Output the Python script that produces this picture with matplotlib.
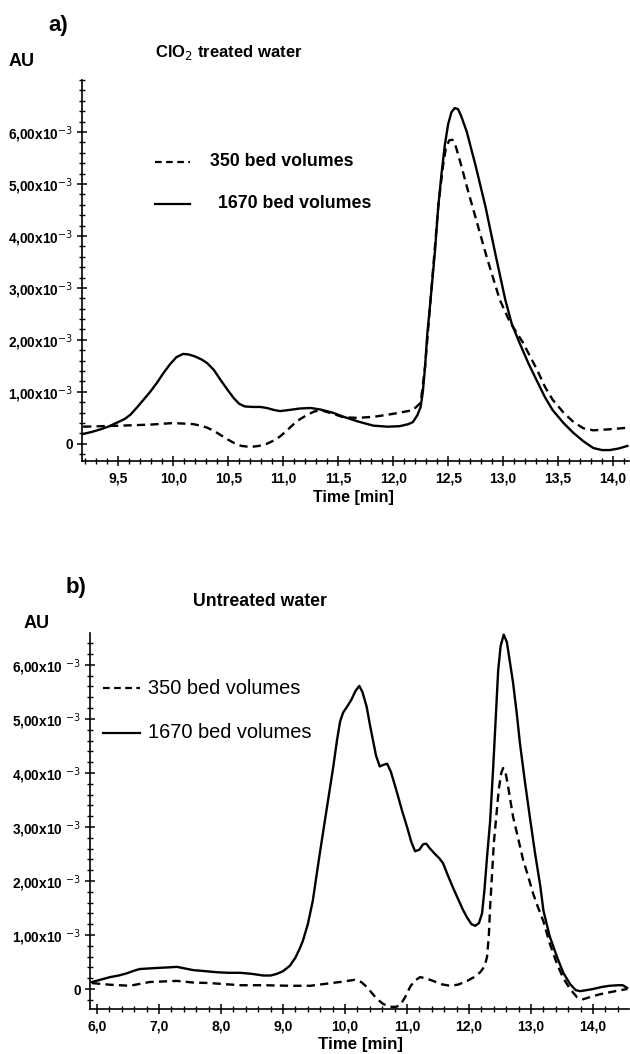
import matplotlib
matplotlib.use("Agg")
import matplotlib.pyplot as plt
from matplotlib.lines import Line2D
from matplotlib.ticker import MultipleLocator, FixedLocator, FuncFormatter

plt.rcParams['font.family'] = ['Liberation Sans', 'DejaVu Sans']

# ---- panel a: ClO2 treated water (AU in units of 1e-3) ----
time_a_1670 = [9.18, 9.26, 9.34, 9.42, 9.50, 9.56, 9.61, 9.67, 9.73, 9.79,
               9.85, 9.91, 9.97, 10.03, 10.09, 10.14, 10.20, 10.26, 10.31, 10.37,
               10.43, 10.49, 10.55, 10.60, 10.65, 10.72, 10.79, 10.85, 10.92, 10.97,
               11.05, 11.15, 11.25, 11.34, 11.45, 11.55, 11.68, 11.82, 11.95, 12.06,
               12.14, 12.18, 12.22, 12.25, 12.27, 12.29, 12.31, 12.34, 12.38, 12.41,
               12.44, 12.47, 12.50, 12.53, 12.56, 12.59, 12.62, 12.67, 12.75, 12.84,
               12.93, 13.02, 13.08, 13.15, 13.23, 13.31, 13.38, 13.45, 13.55, 13.64,
               13.73, 13.82, 13.90, 13.97, 14.05, 14.13]
au_a_1670 = [0.19, 0.23, 0.28, 0.34, 0.42, 0.48, 0.56, 0.70, 0.85, 1.00,
             1.17, 1.36, 1.53, 1.67, 1.73, 1.72, 1.68, 1.62, 1.55, 1.42,
             1.23, 1.05, 0.88, 0.77, 0.72, 0.71, 0.71, 0.69, 0.65, 0.63,
             0.65, 0.68, 0.69, 0.66, 0.60, 0.52, 0.43, 0.35, 0.33, 0.34,
             0.38, 0.42, 0.55, 0.71, 1.00, 1.48, 2.10, 2.77, 3.70, 4.56,
             5.20, 5.75, 6.15, 6.38, 6.46, 6.44, 6.30, 6.00, 5.35, 4.56,
             3.65, 2.77, 2.30, 1.94, 1.55, 1.20, 0.90, 0.65, 0.40, 0.21,
             0.05, -0.08, -0.12, -0.12, -0.09, -0.04]

time_a_350 = [9.18, 9.35, 9.52, 9.79, 10.00, 10.18, 10.25, 10.31, 10.37, 10.43,
              10.49, 10.55, 10.62, 10.70, 10.78, 10.85, 10.91, 10.97, 11.03, 11.09,
              11.15, 11.22, 11.28, 11.34, 11.45, 11.55, 11.68, 11.82, 11.95, 12.06,
              12.18, 12.25, 12.29, 12.34, 12.41, 12.45, 12.48, 12.51, 12.54, 12.57,
              12.62, 12.67, 12.73, 12.85, 12.97, 13.06, 13.18, 13.31, 13.38, 13.45,
              13.55, 13.64, 13.73, 13.82, 13.97, 14.13]
au_a_350 = [0.33, 0.34, 0.35, 0.37, 0.40, 0.38, 0.35, 0.31, 0.25, 0.17,
            0.09, 0.02, -0.04, -0.06, -0.04, 0.00, 0.06, 0.14, 0.25, 0.37,
            0.47, 0.56, 0.62, 0.65, 0.58, 0.51, 0.50, 0.52, 0.56, 0.60,
            0.65, 0.79, 1.48, 2.77, 4.56, 5.30, 5.70, 5.84, 5.85, 5.72,
            5.35, 4.95, 4.50, 3.60, 2.77, 2.35, 1.95, 1.42, 1.10, 0.85,
            0.60, 0.42, 0.30, 0.26, 0.28, 0.31]

# ---- panel b: untreated water ----
time_b_1670 = [5.92, 6.05, 6.21, 6.35, 6.48, 6.60, 6.69, 6.83, 6.97, 7.15,
               7.29, 7.42, 7.55, 7.75, 7.94, 8.12, 8.31, 8.50, 8.68, 8.80,
               8.90, 9.00, 9.11, 9.20, 9.27, 9.32, 9.40, 9.48, 9.54, 9.60,
               9.70, 9.81, 9.87, 9.92, 9.97, 10.03, 10.10, 10.17, 10.23, 10.28,
               10.35, 10.40, 10.45, 10.50, 10.56, 10.62, 10.68, 10.74, 10.84, 10.92,
               11.00, 11.07, 11.13, 11.20, 11.26, 11.31, 11.37, 11.45, 11.52, 11.58,
               11.66, 11.74, 11.81, 11.90, 11.97, 12.04, 12.10, 12.16, 12.21, 12.25,
               12.29, 12.34, 12.39, 12.43, 12.47, 12.51, 12.56, 12.61, 12.66, 12.71,
               12.77, 12.82, 12.90, 12.98, 13.06, 13.15, 13.20, 13.30, 13.42, 13.52,
               13.63, 13.72, 13.79, 13.90, 14.00, 14.15, 14.27, 14.40, 14.48, 14.55]
au_b_1670 = [0.13, 0.17, 0.22, 0.25, 0.29, 0.34, 0.37, 0.38, 0.39, 0.40,
             0.41, 0.38, 0.35, 0.33, 0.31, 0.30, 0.30, 0.28, 0.25, 0.25,
             0.28, 0.33, 0.43, 0.58, 0.75, 0.89, 1.20, 1.63, 2.10, 2.56,
             3.30, 4.11, 4.60, 4.95, 5.12, 5.22, 5.35, 5.52, 5.61, 5.50,
             5.22, 4.90, 4.61, 4.32, 4.12, 4.15, 4.17, 4.02, 3.63, 3.30,
             3.00, 2.72, 2.55, 2.58, 2.68, 2.69, 2.60, 2.50, 2.42, 2.33,
             2.10, 1.88, 1.70, 1.47, 1.32, 1.20, 1.17, 1.22, 1.40, 1.85,
             2.44, 3.10, 4.11, 5.00, 5.90, 6.35, 6.56, 6.42, 6.05, 5.67,
             5.10, 4.56, 3.85, 3.19, 2.55, 1.90, 1.45, 0.98, 0.59, 0.30,
             0.09, -0.02, -0.04, -0.02, 0.00, 0.04, 0.06, 0.07, 0.07, 0.02]

time_b_350 = [5.92, 6.20, 6.53, 6.85, 7.29, 7.55, 7.82, 8.31, 8.70, 9.11,
              9.44, 9.92, 10.16, 10.26, 10.35, 10.43, 10.52, 10.62, 10.73, 10.82,
              10.89, 10.97, 11.05, 11.12, 11.21, 11.30, 11.42, 11.55, 11.69, 11.82,
              11.97, 12.08, 12.18, 12.25, 12.29, 12.32, 12.34, 12.37, 12.40, 12.44,
              12.48, 12.52, 12.55, 12.59, 12.63, 12.71, 12.79, 12.87, 12.95, 13.03,
              13.10, 13.20, 13.30, 13.42, 13.52, 13.63, 13.74, 13.84, 13.95, 14.10,
              14.27, 14.45, 14.55]
au_b_350 = [0.11, 0.08, 0.06, 0.13, 0.15, 0.12, 0.11, 0.07, 0.07, 0.06,
            0.06, 0.13, 0.17, 0.13, 0.04, -0.07, -0.19, -0.28, -0.33, -0.33,
            -0.30, -0.15, 0.04, 0.15, 0.22, 0.20, 0.15, 0.09, 0.06, 0.08,
            0.15, 0.22, 0.31, 0.42, 0.59, 1.00, 1.52, 2.10, 2.70, 3.20,
            3.70, 4.00, 4.09, 4.00, 3.75, 3.19, 2.80, 2.40, 2.10, 1.78,
            1.55, 1.25, 0.85, 0.46, 0.20, 0.00, -0.15, -0.19, -0.15, -0.10,
            -0.06, -0.02, 0.00]

W, H = 630, 1054


def style_axis(ax, xmajor, xminor, ysep):
    for side in ('top', 'right'):
        ax.spines[side].set_visible(False)
    for side in ('left', 'bottom'):
        ax.spines[side].set_linewidth(1.2)
    ax.xaxis.set_major_locator(MultipleLocator(xmajor))
    ax.xaxis.set_minor_locator(MultipleLocator(xminor))
    ax.yaxis.set_major_locator(FixedLocator([0, 1, 2, 3, 4, 5, 6]))
    ax.yaxis.set_minor_locator(MultipleLocator(0.2))
    ax.tick_params(which='major', direction='inout', length=7, width=1.1)
    ax.tick_params(which='minor', direction='inout', length=4, width=1.0)
    ax.tick_params(axis='x', which='major', labelsize=10, pad=4)
    ax.tick_params(axis='y', which='major', labelsize=9.8, pad=3)
    ax.xaxis.set_major_formatter(FuncFormatter(
        lambda v, p: f"{v:.1f}".replace('.', ',')))
    ax.yaxis.set_major_formatter(FuncFormatter(
        lambda v, p: "0" if abs(v) < 1e-9 else
        f"{v:.2f}".replace('.', ',') + "x10" + ysep + "$^{-3}$"))
    for lab in ax.get_xticklabels() + ax.get_yticklabels():
        lab.set_fontweight('bold')


def fig_text(x, y, s, **kw):
    fig.text(x / W, 1 - y / H, s, **kw)


def fig_line(x0, x1, y, ls):
    fig.add_artist(Line2D([x0 / W, x1 / W], [1 - y / H, 1 - y / H],
                          color='black', lw=1.6, ls=ls))


fig = plt.figure(figsize=(6.3, 10.54), dpi=100)

# panel a
ax_a = fig.add_axes([82 / W, 1 - 461 / H, (629 - 82) / W, (461 - 80) / H])
ax_a.plot(time_a_350, au_a_350, color='black', lw=1.7, ls=(0, (3.5, 2.2)))
ax_a.plot(time_a_1670, au_a_1670, color='black', lw=1.7)
ax_a.set_xlim(9.17, 14.145)
ax_a.set_ylim(-0.33, 7.0)
style_axis(ax_a, 0.5, 0.1, "")
fig_text(353, 498, "Time [min]", fontsize=11.5, fontweight='bold', ha='center', va='center')
fig_text(58, 25, "a)", fontsize=16, fontweight='bold', ha='center', va='center')
fig_text(22, 62, "AU", fontsize=13, fontweight='bold', ha='center', va='center')
fig_text(155, 52, "ClO$_2$ treated water", fontsize=12, fontweight='bold',
         ha='left', va='center')
fig_line(155, 190, 162, (0, (3, 2)))
fig_text(210, 162, "350 bed volumes", fontsize=12.8, fontweight='bold',
         ha='left', va='center')
fig_line(155, 190, 204, '-')
fig_text(218, 204, "1670 bed volumes", fontsize=12.8, fontweight='bold',
         ha='left', va='center')

# panel b
ax_b = fig.add_axes([90 / W, 1 - 1009 / H, (629 - 90) / W, (1009 - 633) / H])
ax_b.plot(time_b_350, au_b_350, color='black', lw=1.7, ls=(0, (3.5, 2.2)))
ax_b.plot(time_b_1670, au_b_1670, color='black', lw=1.7)
ax_b.set_xlim(5.887, 14.58)
ax_b.set_ylim(-0.37, 6.59)
style_axis(ax_b, 1.0, 0.2, " ")
fig_text(360, 1044, "Time [min]", fontsize=12.2, fontweight='bold', ha='center', va='center')
fig_text(76, 588, "b)", fontsize=16, fontweight='bold', ha='center', va='center')
fig_text(37, 623, "AU", fontsize=13, fontweight='bold', ha='center', va='center')
fig_text(193, 602, "Untreated water", fontsize=12.7, fontweight='bold',
         ha='left', va='center')
fig_line(103, 140, 688, (0, (3, 2)))
fig_text(148, 688, "350 bed volumes", fontsize=14.4, ha='left', va='center')
fig_line(103, 140, 733, '-')
fig_text(148, 733, "1670 bed volumes", fontsize=14.4, ha='left', va='center')

fig.savefig("out.png", dpi=100)
